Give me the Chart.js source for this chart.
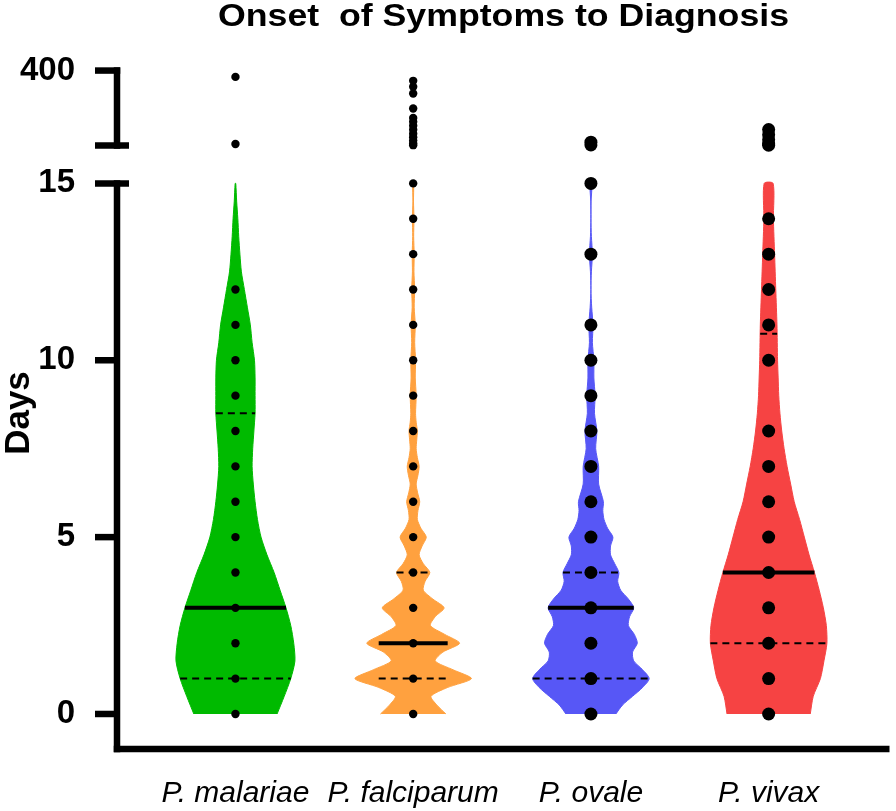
<!DOCTYPE html>
<html>
<head>
<meta charset="utf-8">
<script src="https://cdn.jsdelivr.net/npm/chart.js@4.4.1/dist/chart.umd.min.js"></script>
<style>html,body{margin:0;padding:0;background:#fff}canvas{display:block}</style>
</head>
<body>
<canvas id="c" width="896" height="811" style="width:896px;height:811px"></canvas>
<script>
// ---------------- DATA ----------------
const categories = ['P. malariae', 'P. falciparum', 'P. ovale', 'P. vivax'];
const yTickValues = [0, 5, 10, 15, 400];

const medians = [3, 2, 3, 4];
const lowerQuartiles = [1, 1, 1, 2];
const upperQuartiles = [8.5, 4, 4, 10.75];

// violin density profiles (relative, 1 = widest)
const malariaeLevels = [0,0.5,1,1.5,2,2.5,3,3.5,4,4.5,5,5.5,6,6.5,7,7.5,8,8.5,9,9.5,10,10.5,11,11.5,12,12.5,13,13.5,14,14.5,15];
const malariaeDensity = [0.70,0.82,0.93,1.00,0.98,0.93,0.85,0.75,0.65,0.53,0.43,0.37,0.33,0.30,0.28,0.29,0.31,0.33,0.33,0.33,0.32,0.28,0.25,0.20,0.15,0.10,0.075,0.055,0.04,0.02,0.005];

const falciparumLevels = [0,0.25,0.5,0.75,1,1.25,1.5,1.75,2,2.25,2.5,2.75,3,3.25,3.5,3.75,4,4.25,4.5,4.75,5,5.25,5.5,5.75,6,6.25,6.5,6.75,7,7.25,7.5,7.75,8,8.25,8.5,9,9.5,10,10.5,11,11.5,12,12.5,13,13.5,14,14.5,15];
const falciparumDensity = [0.55,0.40,0.30,0.58,0.98,0.67,0.37,0.50,0.78,0.53,0.29,0.37,0.52,0.33,0.17,0.20,0.28,0.17,0.10,0.15,0.22,0.13,0.07,0.08,0.11,0.075,0.05,0.08,0.10,0.07,0.05,0.06,0.07,0.05,0.04,0.05,0.035,0.04,0.025,0.035,0.017,0.025,0.013,0.017,0.008,0.013,0.005,0.008];

const ovaleLevels = [0,0.25,0.5,0.75,1,1.25,1.5,1.75,2,2.25,2.5,2.75,3,3.25,3.5,3.75,4,4.25,4.5,4.75,5,5.25,5.5,5.75,6,6.5,7,7.5,8,8.5,9,9.5,10,10.5,11,11.5,12,12.5,13,13.5,14,14.5,15];
const ovaleDensity = [0.42,0.53,0.70,0.87,0.98,0.87,0.72,0.70,0.78,0.73,0.63,0.65,0.72,0.63,0.50,0.45,0.47,0.40,0.33,0.33,0.37,0.28,0.22,0.20,0.21,0.13,0.13,0.08,0.10,0.06,0.07,0.05,0.05,0.025,0.035,0.013,0,0.008,0.025,0.008,0,0.003,0.017];

const vivaxLevels = [0,0.5,1,1.5,2,2.5,3,3.5,4,4.5,5,5.5,6,6.5,7,7.5,8,8.5,9,9.5,10,11,12,13,14,15];
const vivaxDensity = [0.70,0.75,0.87,0.93,0.98,0.97,0.92,0.85,0.77,0.68,0.60,0.52,0.43,0.37,0.31,0.26,0.22,0.19,0.17,0.16,0.15,0.14,0.12,0.10,0.08,0.075];

// individual observations (days)
const malariaeDays = [0,1,2,3,4,5,6,7,8,9,10,11,12,28,368];
const falciparumDays = [0,1,2,3,4,5,6,7,8,9,10,11,12,13,14,15,22,30,45,62,80,100,120,140,160,208,284,318,348];
const ovaleDays = [0,1,2,3,4,5,6,7,8,9,10,11,13,15,23,37];
const vivaxDays = [0,1,2,3,4,5,6,7,8,10,11,12,13,14,22,28,50,75,101];

// ---------------- STYLE / LAYOUT ----------------
const colors = ['#00BA00', '#FFA13F', '#5757F6', '#F64343'];
const FONT = '"Liberation Sans", Arial, Helvetica, sans-serif';

// broken y axis: 0-15 linear, then a gap, then 20-400 compressed
const LOW_MAX = 15, HIGH_MIN = 20, HIGH_MAX = 400;
const GAP = 1.07, HIGH_SPAN = 2.12;
function toAxis(v) {
  if (v <= LOW_MAX) return v;
  return LOW_MAX + GAP + (v - HIGH_MIN) / (HIGH_MAX - HIGH_MIN) * HIGH_SPAN;
}
const HALF = 0.3346;              // half width (x units) of density 1
const lineCap = [Infinity, 0.58, Infinity, Infinity];

const profiles = [
  [malariaeLevels, malariaeDensity],
  [falciparumLevels, falciparumDensity],
  [ovaleLevels, ovaleDensity],
  [vivaxLevels, vivaxDensity]
];
const dayLists = [malariaeDays, falciparumDays, ovaleDays, vivaxDays];

function interp(levels, dens, v) {
  for (let k = 0; k < levels.length - 1; k++) {
    if (v >= levels[k] && v <= levels[k + 1]) {
      const t = (v - levels[k]) / (levels[k + 1] - levels[k]);
      return dens[k] + t * (dens[k + 1] - dens[k]);
    }
  }
  return 0;
}
function violinPoints(i) {
  const [levels, dens] = profiles[i];
  const cx = i + 1, pts = [];
  for (let k = 0; k < levels.length; k++) pts.push({ x: cx + dens[k] * HALF, y: levels[k] });
  for (let k = levels.length - 1; k >= 0; k--) pts.push({ x: cx - dens[k] * HALF, y: levels[k] });
  return pts;
}
function statLine(i, v) {
  const [levels, dens] = profiles[i];
  const hw = Math.min(interp(levels, dens, v), lineCap[i]) * HALF;
  return [{ x: i + 1 - hw, y: v }, { x: i + 1 + hw, y: v }];
}

const datasets = [];
categories.forEach((c, i) => {
  datasets.push({
    label: c + ' violin', data: violinPoints(i), order: 3,
    borderColor: colors[i], backgroundColor: colors[i], borderWidth: 1,
    fill: 'shape', pointRadius: 0, tension: 0.25
  });
  datasets.push({
    label: c + ' median', data: statLine(i, medians[i]), order: 2,
    borderColor: '#000', borderWidth: 4, pointRadius: 0, fill: false
  });
  [lowerQuartiles[i], upperQuartiles[i]].forEach(q => datasets.push({
    label: c + ' quartile', data: statLine(i, q), order: 2,
    borderColor: '#000', borderWidth: 2, borderDash: [7, 5], pointRadius: 0, fill: false
  }));
  datasets.push({
    label: c + ' days', data: dayLists[i].map(d => ({ x: i + 1, y: toAxis(d) })), order: 1,
    showLine: false, pointRadius: i < 2 ? 4.2 : 6.5, pointBackgroundColor: '#000',
    pointBorderWidth: 0, pointHoverRadius: 0
  });
});

const brokenAxis = {
  id: 'brokenAxis',
  afterDraw(chart) {
    const { ctx, chartArea: a, scales: { y } } = chart;
    const X = a.left, lw = 6.5, tick = 22, capR = 12;
    const py = v => y.getPixelForValue(toAxis(v));
    ctx.save();
    ctx.strokeStyle = '#000'; ctx.lineWidth = lw; ctx.lineCap = 'butt';
    const seg = (x1, y1, x2, y2) => { ctx.beginPath(); ctx.moveTo(x1, y1); ctx.lineTo(x2, y2); ctx.stroke(); };
    // lower segment + x axis
    seg(X, py(LOW_MAX) - lw / 2, X, a.bottom + lw / 2);
    seg(X - lw / 2, a.bottom, a.right, a.bottom);
    // upper segment
    seg(X, py(HIGH_MAX) - lw / 2, X, py(HIGH_MIN) + lw / 2);
    seg(X - tick, py(HIGH_MIN), X + capR, py(HIGH_MIN));
    yTickValues.forEach(v => {
      const p = py(v);
      if (v === LOW_MAX) seg(X - tick, p, X + capR, p);
      else if (v === HIGH_MAX) seg(X - tick, p, X + lw / 2, p);
      else seg(X - tick, p, X, p);
    });
    // chart title
    ctx.fillStyle = '#000';
    ctx.font = 'bold 31px ' + FONT;
    ctx.textBaseline = 'alphabetic'; ctx.textAlign = 'left';
    const title = 'Onset  of Symptoms to Diagnosis';
    const w = ctx.measureText(title).width;
    const sx = 571 / w;
    ctx.save(); ctx.translate(218, 26); ctx.scale(sx, 1); ctx.fillText(title, 0, 0); ctx.restore();
    // y axis title
    ctx.save();
    ctx.font = 'bold 35px ' + FONT;
    ctx.translate(29, 413); ctx.rotate(-Math.PI / 2);
    ctx.textAlign = 'center'; ctx.textBaseline = 'alphabetic';
    ctx.fillText('Days', 0, 0);
    ctx.restore();
    ctx.restore();
  }
};

new Chart(document.getElementById('c'), {
  type: 'line',
  data: { datasets },
  plugins: [brokenAxis],
  options: {
    responsive: false, animation: false, devicePixelRatio: 1,
    layout: { padding: { top: 55, left: 0, right: 0, bottom: 0 } },
    plugins: { legend: { display: false }, tooltip: { enabled: false }, title: { display: false } },
    elements: { line: { capBezierPoints: false } },
    scales: {
      x: {
        type: 'linear', min: 0.3335, max: 4.68, bounds: 'data',
        grid: { display: false }, border: { display: false },
        afterBuildTicks: s => { s.ticks = categories.map((c, i) => ({ value: i + 1 })); },
        afterFit: s => { s.height = 62; },
        ticks: {
          callback: (v, i) => categories[i], autoSkip: false, maxRotation: 0,
          font: { family: FONT, size: 30, style: 'italic' }, color: '#000', padding: 19
        }
      },
      y: {
        type: 'linear', min: -0.99, max: 18.63, bounds: 'data',
        grid: { display: false }, border: { display: false },
        afterBuildTicks: s => { s.ticks = yTickValues.map(v => ({ value: toAxis(v) })); },
        afterFit: s => { s.width = 117; },
        ticks: {
          callback: (v, i) => String(yTickValues[i]), autoSkip: false,
          font: { family: FONT, size: 33, weight: 'bold' }, color: '#000', padding: 34
        }
      }
    }
  }
});
</script>
</body>
</html>
